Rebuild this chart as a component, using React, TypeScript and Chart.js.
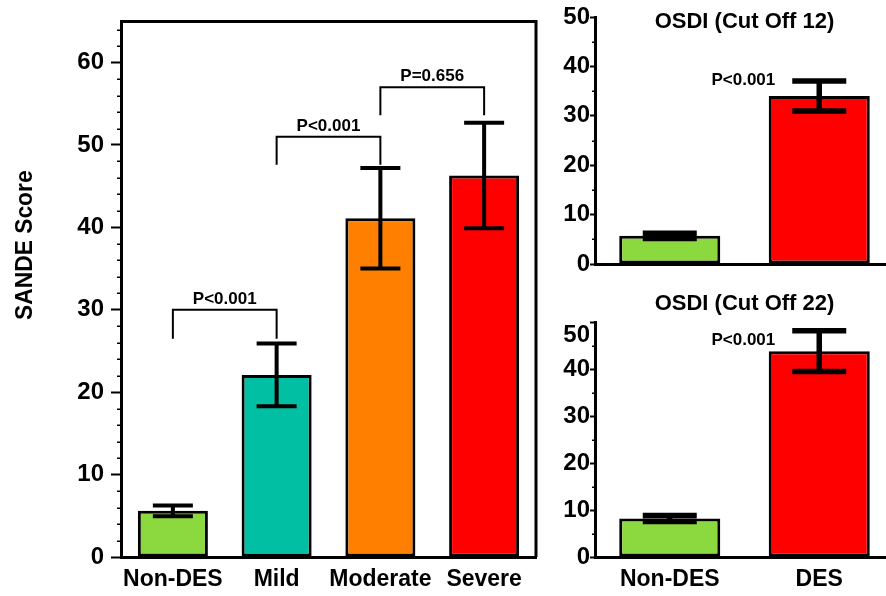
import React, { useEffect, useRef } from 'react';
import { Chart, registerables } from 'chart.js';

Chart.register(...registerables);

// ---------- data ----------
const severityLabels = ['Non-DES', 'Mild', 'Moderate', 'Severe'];
const severityMeans = [5.6, 22.1, 41.1, 46.3];
const severityErrors = [0.65, 3.8, 6.1, 6.4];
const severityColors = ['#8CD93F', '#00BFA3', '#FF8000', '#FF0000'];

const bracketFrom = [0, 1, 2];
const bracketTo = [1, 2, 3];
const bracketTop = [30.0, 51.0, 57.0];
const bracketLegEnd = [26.5, 47.6, 53.6];
const bracketText = ['P<0.001', 'P<0.001', 'P=0.656'];

const osdiLabels = ['Non-DES', 'DES'];
const osdiColors = ['#8CD93F', '#FF0000'];
const osdi12Means = [5.7, 34.0];
const osdi12Errors = [0.55, 3.05];
const osdi22Means = [8.2, 43.8];
const osdi22Errors = [0.65, 4.35];
const osdiPText = 'P<0.001';
const osdi12PValue = 37.1;
const osdi22PValue = 46.2;

const sandeTitle = 'SANDE Score';
const osdi12Title = 'OSDI (Cut Off 12)';
const osdi22Title = 'OSDI (Cut Off 22)';

const FONT = "'Liberation Sans', Arial, Helvetica, sans-serif";
const CW = 900;
const CH = 596;

function errorBarPlugin(errors: number[], capWidth: number, lw: number) {
  return {
    id: 'errorBars',
    afterDatasetsDraw(chart: any) {
      const meta = chart.getDatasetMeta(0);
      const y = chart.scales.y;
      const data = chart.data.datasets[0].data as number[];
      const ctx = chart.ctx;
      ctx.save();
      ctx.strokeStyle = '#000';
      ctx.lineWidth = lw;
      meta.data.forEach((bar: any, i: number) => {
        const v = data[i];
        const hi = y.getPixelForValue(v + errors[i]);
        const lo = y.getPixelForValue(v - errors[i]);
        const x = bar.x;
        ctx.beginPath();
        ctx.moveTo(x, hi);
        ctx.lineTo(x, lo);
        ctx.moveTo(x - capWidth / 2, hi);
        ctx.lineTo(x + capWidth / 2, hi);
        ctx.moveTo(x - capWidth / 2, lo);
        ctx.lineTo(x + capWidth / 2, lo);
        ctx.stroke();
      });
      ctx.restore();
    },
  };
}

function minorTickPlugin(step: number, major: number, len: number) {
  return {
    id: 'minorTicks',
    afterDraw(chart: any) {
      const y = chart.scales.y;
      const ctx = chart.ctx;
      ctx.save();
      ctx.strokeStyle = '#000';
      ctx.lineWidth = 1.5;
      for (let v = y.min; v <= y.max + 1e-9; v += step) {
        if (Math.abs(v % major) < 1e-9) continue;
        const p = Math.round(y.getPixelForValue(v)) + 0.25;
        ctx.beginPath();
        ctx.moveTo(y.right - len, p);
        ctx.lineTo(y.right, p);
        ctx.stroke();
      }
      ctx.restore();
    },
  };
}

function makeYScale(max: number, tickLength: number, padding: number, width: number, hideValue?: number) {
  return {
    min: 0,
    max,
    afterFit(scale: any) {
      scale.width = width;
    },
    border: { display: true, color: '#000', width: 3 },
    grid: {
      display: true,
      drawOnChartArea: false,
      drawTicks: true,
      tickLength,
      tickWidth: 2,
      tickColor: '#000',
    },
    ticks: {
      stepSize: 10,
      includeBounds: false,
      padding,
      color: '#000',
      font: { family: FONT, size: 24, weight: 'bold' },
      callback: (v: any) => (hideValue !== undefined && v === hideValue ? '' : String(v)),
    },
  };
}

function makeXScale(height: number, showLabels: boolean, padding: number) {
  return {
    afterFit(scale: any) {
      scale.height = height;
    },
    border: { display: true, color: '#000', width: 3 },
    grid: { display: false },
    ticks: {
      display: showLabels,
      padding,
      color: '#000',
      autoSkip: false,
      maxRotation: 0,
      font: { family: FONT, size: 23, weight: 'bold' },
    },
  };
}

export default function App() {
  const mainRef = useRef<HTMLCanvasElement>(null);
  const topRef = useRef<HTMLCanvasElement>(null);
  const botRef = useRef<HTMLCanvasElement>(null);

  useEffect(() => {
    const charts: Chart[] = [];

    // ---------- main SANDE chart ----------
    const mainPlugin = {
      id: 'mainDecor',
      afterDatasetsDraw(chart: any) {
        const { ctx, chartArea } = chart;
        const x = chart.scales.x;
        const y = chart.scales.y;
        ctx.save();
        // frame top + right
        ctx.strokeStyle = '#000';
        ctx.lineWidth = 3;
        ctx.beginPath();
        ctx.moveTo(chartArea.left, chartArea.top);
        ctx.lineTo(chartArea.right, chartArea.top);
        ctx.lineTo(chartArea.right, chartArea.bottom);
        ctx.stroke();
        // brackets
        ctx.lineWidth = 2;
        ctx.fillStyle = '#000';
        ctx.font = `bold 17px ${FONT}`;
        ctx.textAlign = 'center';
        ctx.textBaseline = 'alphabetic';
        bracketFrom.forEach((from, i) => {
          const x1 = x.getPixelForValue(from);
          const x2 = x.getPixelForValue(bracketTo[i]);
          const yt = y.getPixelForValue(bracketTop[i]);
          const yl = y.getPixelForValue(bracketLegEnd[i]);
          ctx.beginPath();
          ctx.moveTo(x1, yl);
          ctx.lineTo(x1, yt);
          ctx.lineTo(x2, yt);
          ctx.lineTo(x2, yl);
          ctx.stroke();
          ctx.fillText(bracketText[i], (x1 + x2) / 2, yt - 6);
        });
        // y title
        ctx.font = `bold 24px ${FONT}`;
        ctx.translate(32, (chartArea.top + chartArea.bottom) / 2 - 44);
        ctx.rotate(-Math.PI / 2);
        ctx.scale(0.95, 1);
        ctx.textAlign = 'center';
        ctx.fillText(sandeTitle, 0, 0);
        ctx.restore();
      },
    };

    charts.push(
      new Chart(mainRef.current!, {
        type: 'bar',
        data: {
          labels: severityLabels,
          datasets: [
            {
              data: severityMeans,
              backgroundColor: severityColors,
              borderColor: '#000',
              borderWidth: 3,
              borderSkipped: false,
              categoryPercentage: 1,
              barPercentage: 0.675,
            },
          ],
        },
        options: {
          responsive: false,
          animation: false,
          devicePixelRatio: 1,
          layout: { padding: { left: 0, top: 17, right: CW - 536, bottom: 0 } },
          plugins: { legend: { display: false }, tooltip: { enabled: false } },
          scales: {
            x: makeXScale(39, true, 1) as any,
            y: makeYScale(65, 10, 7, 121) as any,
          },
        },
        plugins: [errorBarPlugin(severityErrors, 40, 4), minorTickPlugin(2, 10, 4), mainPlugin],
      })
    );

    // ---------- OSDI charts ----------
    const osdiDecor = (title: string, titleOffset: number, pValue: number, shift?: number) => ({
      id: 'osdiDecor',
      afterDraw(chart: any) {
        const { ctx, chartArea } = chart;
        const y = chart.scales.y;
        const meta = chart.getDatasetMeta(0);
        ctx.save();
        ctx.fillStyle = '#000';
        ctx.font = `bold 22px ${FONT}`;
        ctx.textAlign = 'center';
        ctx.textBaseline = 'alphabetic';
        ctx.fillText(title, (chartArea.left + chartArea.right) / 2, chartArea.top + titleOffset);
        ctx.font = `bold 17px ${FONT}`;
        ctx.textAlign = 'right';
        ctx.textBaseline = 'middle';
        const desBar = meta.data[1];
        ctx.fillText(osdiPText, desBar.x - 44, y.getPixelForValue(pValue));
        if (shift !== undefined) {
          ctx.font = `bold 24px ${FONT}`;
          ctx.textAlign = 'right';
          ctx.fillText(String(y.max), y.right - 5, y.getPixelForValue(y.max) + shift);
        }
        ctx.restore();
      },
    });

    const osdiChart = (
      canvas: HTMLCanvasElement,
      means: number[],
      errors: number[],
      padding: any,
      xHeight: number,
      showX: boolean,
      decor: any,
      hideValue?: number
    ) =>
      new Chart(canvas, {
        type: 'bar',
        data: {
          labels: osdiLabels,
          datasets: [
            {
              data: means,
              backgroundColor: osdiColors,
              borderColor: '#000',
              borderWidth: 3,
              borderSkipped: false,
              categoryPercentage: 1,
              barPercentage: 0.676,
            },
          ],
        },
        options: {
          responsive: false,
          animation: false,
          devicePixelRatio: 1,
          layout: { padding },
          plugins: { legend: { display: false }, tooltip: { enabled: false } },
          scales: {
            x: makeXScale(xHeight, showX, 1) as any,
            y: makeYScale(50, 5, 0, 60, hideValue) as any,
          },
        },
        plugins: [errorBarPlugin(errors, 54, 5.5), minorTickPlugin(5, 10, 3), decor],
      });

    charts.push(
      osdiChart(
        topRef.current!,
        osdi12Means,
        osdi12Errors,
        { left: 535, top: 17, right: CW - 894, bottom: CH - 264 },
        0,
        false,
        osdiDecor(osdi12Title, 11, osdi12PValue)
      )
    );
    charts.push(
      osdiChart(
        botRef.current!,
        osdi22Means,
        osdi22Errors,
        { left: 535, top: 322, right: CW - 894, bottom: 0 },
        39,
        true,
        osdiDecor(osdi22Title, -12, osdi22PValue, 13),
        50
      )
    );

    return () => charts.forEach((c) => c.destroy());
  }, []);

  const canvasStyle: React.CSSProperties = {
    position: 'absolute',
    left: 0,
    top: 0,
    width: CW,
    height: CH,
    display: 'block',
  };

  return (
    <div
      style={{
        position: 'fixed',
        left: 0,
        top: 0,
        width: 886,
        height: 596,
        overflow: 'hidden',
        background: '#fff',
      }}
    >
      <canvas ref={mainRef} width={CW} height={CH} style={canvasStyle} />
      <canvas ref={topRef} width={CW} height={CH} style={canvasStyle} />
      <canvas ref={botRef} width={CW} height={CH} style={canvasStyle} />
    </div>
  );
}
